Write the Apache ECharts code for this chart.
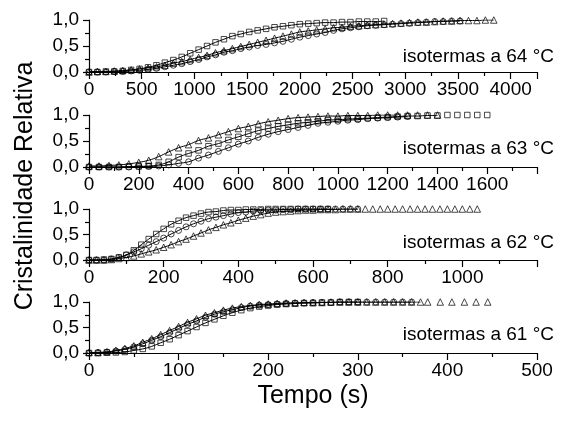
<!DOCTYPE html>
<html>
<head>
<meta charset="utf-8">
<script src="https://cdn.jsdelivr.net/npm/echarts@6/dist/echarts.min.js"></script>
<style>
html, body { margin: 0; padding: 0; background: #fff; }
#chart { width: 567px; height: 426px; }
</style>
</head>
<body>
<div id="chart"></div>
<script>
// isothermal crystallization, relative crystallinity vs time
const panelLabels = ['isotermas a 64 °C', 'isotermas a 63 °C', 'isotermas a 62 °C', 'isotermas a 61 °C']
const stepT = [80, 40, 20, 10]          // sampling interval of each panel (s)
const xMax = [4250, 1800, 1200, 500]
const xInterval = [500, 200, 200, 100]

// 64 °C
const sq64 = [0, 0, 0.01, 0.01, 0.02, 0.04, 0.06, 0.09, 0.13, 0.18, 0.23, 0.29, 0.36, 0.43, 0.50, 0.57, 0.63, 0.69, 0.73, 0.77,
  0.80, 0.83, 0.86, 0.88, 0.90, 0.92, 0.93, 0.94, 0.95, 0.95, 0.96, 0.96, 0.97, 0.97, 0.97, 0.98]
const ci64 = [0, 0, 0, 0.01, 0.01, 0.02, 0.03, 0.05, 0.07, 0.10, 0.13, 0.16, 0.20, 0.24, 0.29, 0.33, 0.38, 0.41, 0.45, 0.48,
  0.51, 0.53, 0.56, 0.59, 0.63, 0.67, 0.70, 0.73, 0.76, 0.80, 0.83, 0.85, 0.87, 0.89, 0.90, 0.91, 0.92, 0.93, 0.94, 0.95,
  0.96, 0.97, 0.97, 0.98, 0.98]
const tr64 = [0, 0.01, 0.01, 0.02, 0.03, 0.04, 0.06, 0.08, 0.10, 0.13, 0.17, 0.20, 0.24, 0.28, 0.32, 0.37, 0.41, 0.45, 0.49, 0.53,
  0.57, 0.61, 0.65, 0.69, 0.73, 0.77, 0.79, 0.81, 0.83, 0.85, 0.86, 0.88, 0.89, 0.90, 0.91, 0.92, 0.93, 0.94, 0.95, 0.96,
  0.96, 0.97, 0.98, 0.98, 0.99, 0.99, 0.99, 1.00, 1.00]

// 63 °C
const sq63 = [0, 0, 0, 0, 0.01, 0.01, 0.02, 0.04, 0.10, 0.19, 0.26, 0.32, 0.40, 0.45, 0.52, 0.58, 0.64, 0.70, 0.74, 0.78,
  0.81, 0.84, 0.86, 0.88, 0.90, 0.91, 0.92, 0.93, 0.94, 0.95, 0.96, 0.97, 0.98, 0.98, 0.99, 0.99, 1.00, 1.00, 1.00, 1.00, 1.00]
const ci63 = [0, 0, 0, 0, 0, 0.01, 0.01, 0.02, 0.04, 0.07, 0.10, 0.17, 0.23, 0.30, 0.37, 0.44, 0.50, 0.57, 0.63, 0.68,
  0.72, 0.76, 0.80, 0.84, 0.86, 0.88, 0.90, 0.91, 0.93, 0.94, 0.95, 0.96, 0.97]
const tr63 = [0.02, 0.02, 0.03, 0.04, 0.06, 0.09, 0.13, 0.20, 0.29, 0.37, 0.43, 0.51, 0.56, 0.62, 0.68, 0.74, 0.78, 0.83, 0.87, 0.90,
  0.93, 0.95, 0.96, 0.97, 0.98, 0.98, 0.99, 0.99, 0.99, 1.00, 1.00, 1.00, 1.00, 1.00, 1.00, 1.00]

// 62 °C
const sq62 = [0, 0, 0.01, 0.02, 0.05, 0.10, 0.19, 0.30, 0.41, 0.51, 0.61, 0.70, 0.77, 0.83, 0.87, 0.91, 0.94, 0.95, 0.97, 0.98,
  0.98, 0.99, 0.99, 0.99, 1.00, 1.00, 1.00, 1.00, 1.00, 1.00, 1.00, 1.00, 1.00]
const ci62 = [0, 0, 0, 0.02, 0.05, 0.10, 0.16, 0.22, 0.29, 0.36, 0.43, 0.51, 0.58, 0.65, 0.71, 0.76, 0.81, 0.84, 0.87, 0.90,
  0.93, 0.94, 0.96, 0.97, 0.98, 0.98, 0.99, 0.99, 1.00, 1.00, 1.00, 1.00, 1.00, 1.00, 1.00, 1.00, 1.00]
const tr62 = [0, 0, 0, 0.01, 0.03, 0.05, 0.08, 0.12, 0.16, 0.20, 0.25, 0.30, 0.36, 0.41, 0.47, 0.53, 0.59, 0.64, 0.69, 0.73,
  0.78, 0.82, 0.86, 0.89, 0.92, 0.94, 0.95, 0.96, 0.97, 0.98, 0.98, 0.99, 0.99, 0.99, 1.00, 1.00, 1.00, 1.00, 1.00, 1.00,
  1.00, 1.00, 1.00, 1.00, 1.00, 1.00, 1.00, 1.00, 1.00, 1.00, 1.00, 1.00, 1.00]

// 61 °C
const sq61 = [0, 0, 0.01, 0.01, 0.02, 0.05, 0.08, 0.13, 0.20, 0.27, 0.35, 0.43, 0.51, 0.59, 0.66, 0.73, 0.79, 0.84, 0.88, 0.91,
  0.93, 0.95, 0.96, 0.97, 0.98, 0.98, 0.99, 0.99, 1.00, 1.00, 1.00]
const ci61 = [0, 0.01, 0.02, 0.04, 0.07, 0.12, 0.18, 0.25, 0.32, 0.40, 0.48, 0.56, 0.63, 0.70, 0.76, 0.81, 0.85, 0.89, 0.92, 0.94,
  0.95, 0.96, 0.97, 0.98, 0.98, 0.99, 0.99, 0.99, 1.00, 1.00, 1.00, 1.00, 1.00, 1.00, 1.00, 1.00, 1.00]
const tr61 = [0.01, 0.01, 0.02, 0.05, 0.09, 0.14, 0.21, 0.28, 0.36, 0.44, 0.52, 0.60, 0.67, 0.74, 0.79, 0.84, 0.88, 0.91, 0.93, 0.95,
  0.96, 0.97, 0.98, 0.98, 0.99, 0.99, 0.99, 1.00, 1.00, 1.00, 1.00, 1.00, 1.00, 1.00, 1.00, 1.00, 1.00, 1.00]
const tr61Tail = [[378, 1.0], [392, 1.0], [405, 1.0], [419, 1.0], [432, 1.0], [445, 1.0]]

// [squares, circles, triangles] per panel, and how many points the fitted curve covers
const panels = [
  { sets: [sq64, ci64, tr64], fitN: [36, 45, 49] },
  { sets: [sq63, ci63, tr63], fitN: [36, 33, 32] },
  { sets: [sq62, ci62, tr62], fitN: [33, 37, 37] },
  { sets: [sq61, ci61, tr61], fitN: [31, 37, 38] },
]

const FONT = '"Liberation Sans", Arial, Helvetica, sans-serif'
const symbols = ['rect', 'circle', 'triangle']
const symbolSizes = [5.5, 6, 6.5]
const gridTops = [20, 115, 209, 302]
const gridHeights = [52, 52, 51, 51]
const labelY = [57, 149, 243, 335]

function pairs(ys, step) {
  return ys.map((y, i) => [i * step, y])
}

const grid = []
const xAxis = []
const yAxis = []
const series = []
const graphic = []

panels.forEach((p, i) => {
  grid.push({ left: 89, width: 448, top: gridTops[i], height: gridHeights[i] })
  xAxis.push({
    gridIndex: i,
    type: 'value',
    min: 0,
    max: xMax[i],
    interval: xInterval[i],
    axisLine: { show: true, onZero: false, lineStyle: { color: '#000', width: 1.2 } },
    axisTick: { show: true, length: 7, lineStyle: { color: '#000', width: 1.2 } },
    minorTick: { show: true, splitNumber: 2, length: 4, lineStyle: { color: '#000', width: 1.2 } },
    splitLine: { show: false },
    axisLabel: {
      color: '#000',
      fontSize: 19,
      fontFamily: FONT,
      margin: 8,
      showMinLabel: true,
      showMaxLabel: i === 3,
      formatter: v => String(v),
    },
  })
  yAxis.push({
    gridIndex: i,
    type: 'value',
    min: 0,
    max: 1,
    interval: 0.5,
    axisLine: { show: true, onZero: false, lineStyle: { color: '#000', width: 1.2 } },
    axisTick: { show: true, length: 6, lineStyle: { color: '#000', width: 1.2 } },
    minorTick: { show: true, splitNumber: 2, length: 4, lineStyle: { color: '#000', width: 1.2 } },
    splitLine: { show: false },
    axisLabel: {
      color: '#000',
      fontSize: 19,
      fontFamily: FONT,
      margin: 10,
      formatter: v => v.toFixed(1).replace('.', ','),
    },
  })

  p.sets.forEach((ys, k) => {
    let pts = pairs(ys, stepT[i])
    if (i === 3 && k === 2) pts = pts.concat(tr61Tail)
    series.push({
      type: 'scatter',
      xAxisIndex: i,
      yAxisIndex: i,
      data: pts,
      symbol: symbols[k],
      symbolSize: symbolSizes[k],
      itemStyle: { color: 'rgba(255,255,255,0)', borderColor: '#000', borderWidth: 0.9 },
      silent: true,
    })
    series.push({
      type: 'line',
      xAxisIndex: i,
      yAxisIndex: i,
      data: pairs(ys.slice(0, p.fitN[k]), stepT[i]),
      smooth: true,
      showSymbol: false,
      lineStyle: { color: '#000', width: 1 },
      silent: true,
    })
  })

  graphic.push({
    type: 'text',
    x: 554,
    y: labelY[i],
    style: {
      text: panelLabels[i],
      fill: '#000',
      font: '19px ' + FONT,
      textAlign: 'right',
      textVerticalAlign: 'middle',
    },
  })
})

graphic.push({
  type: 'text',
  x: 25,
  y: 186,
  rotation: Math.PI / 2,
  style: {
    text: 'Cristalinidade Relativa',
    fill: '#000',
    font: '25px ' + FONT,
    textAlign: 'center',
    textVerticalAlign: 'middle',
  },
})
graphic.push({
  type: 'text',
  x: 313,
  y: 396,
  style: {
    text: 'Tempo (s)',
    fill: '#000',
    font: '25px ' + FONT,
    textAlign: 'center',
    textVerticalAlign: 'middle',
  },
})

const chart = echarts.init(document.getElementById('chart'))
chart.setOption({
  animation: false,
  backgroundColor: '#fff',
  grid,
  xAxis,
  yAxis,
  series,
  graphic,
})
</script>
</body>
</html>
